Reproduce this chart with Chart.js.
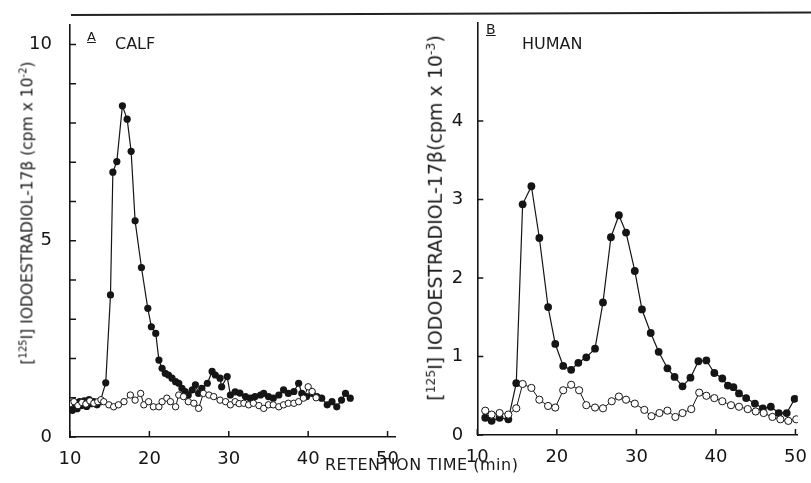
<!DOCTYPE html>
<html>
<head>
<meta charset="utf-8">
<script src="https://cdn.jsdelivr.net/npm/chart.js@4"></script>
<style>
    body { margin: 0; background: #fff; }
    #wrap { position: relative; width: 811px; height: 483px; background: #fff; font-family: "DejaVu Sans", sans-serif; color: #1a1a1a; }
    canvas { position: absolute; top: 0; }
    #chart-a { left: 0; }
    #chart-b { left: 405px; }
    .txt { position: absolute; white-space: nowrap; }
    .ytitle { transform: translate(-50%, -50%) rotate(-90deg); }
    .ytitle sup { font-size: 65%; }
    #rule { position: absolute; left: 71px; top: 14px; width: 740px; border-top: 2px solid #222; transform: rotate(-0.2deg); transform-origin: left center; }
</style>
</head>
<body>
<div id="wrap">
    <canvas id="chart-a" width="405" height="483"></canvas>
    <canvas id="chart-b" width="406" height="483"></canvas>
    <div id="rule"></div>

    <div class="txt" style="left:87px; top:29px; font-size:13px; text-decoration:underline;">A</div>
    <div class="txt" style="left:115px; top:34px; font-size:16px;">CALF</div>
    <div class="txt" style="left:486px; top:21px; font-size:14px; text-decoration:underline;">B</div>
    <div class="txt" style="left:522px; top:34px; font-size:16px;">HUMAN</div>

    <div class="txt ytitle" style="left:27px; top:213px; font-size:15.5px;">[<sup>125</sup>I] IODOESTRADIOL-17β (cpm x 10<sup>-2</sup>)</div>
    <div class="txt ytitle" style="left:435px; top:218px; font-size:19px;">[<sup>125</sup>I] IODOESTRADIOL-17β(cpm x 10<sup>-3</sup>)</div>

    <div class="txt" style="left:325px; top:455px; font-size:16px; letter-spacing:0.5px;">RETENTION TIME (min)</div>
</div>

<script>
    // panel A - calf
    const calfFilledTime = [10.0, 10.3, 10.6, 10.9, 11.2, 11.5, 11.8, 12.1, 12.4, 12.7, 13.0, 13.4, 13.8, 14.5,
        15.1, 15.4, 15.9, 16.6, 17.2, 17.7, 18.2, 19.0, 19.8, 20.25, 20.8, 21.2, 21.6, 22.0, 22.4, 22.85,
        23.3, 23.7, 24.1, 24.5, 24.9, 25.4, 25.8, 26.2, 26.6, 27.3, 27.9, 28.3, 28.9, 29.1, 29.8, 30.2,
        30.8, 31.4, 32.1, 32.7, 33.3, 34.0, 34.4, 35.0, 35.6, 36.3, 36.9, 37.5, 38.2, 38.8, 39.2, 39.8,
        40.5, 41.1, 41.7, 42.4, 43.0, 43.6, 44.2, 44.7, 45.3];
    const calfFilled = [0.75, 0.68, 0.85, 0.72, 0.9, 0.8, 0.92, 0.78, 0.95, 0.85, 0.9, 0.82, 0.9, 1.38,
        3.62, 6.75, 7.02, 8.44, 8.1, 7.28, 5.51, 4.32, 3.28, 2.81, 2.64, 1.96, 1.75, 1.62, 1.58, 1.5,
        1.41, 1.37, 1.24, 1.16, 1.07, 1.2, 1.33, 1.11, 1.24, 1.37, 1.67, 1.58, 1.5, 1.28, 1.54, 1.07,
        1.15, 1.12, 1.03, 0.99, 1.03, 1.07, 1.11, 1.03, 0.99, 1.07, 1.2, 1.11, 1.16, 1.37, 1.11, 1.03,
        1.11, 1.03, 0.99, 0.82, 0.9, 0.77, 0.94, 1.11, 0.99];

    const calfOpenTime = [10.0, 10.5, 11.0, 11.5, 12.0, 12.5, 13.0, 13.5, 13.9, 14.25, 14.9, 15.5, 16.1,
        16.8, 17.6, 18.2, 18.9, 19.3, 19.9, 20.5, 21.2, 21.6, 22.2, 22.65, 23.3, 23.7, 24.3, 24.9, 25.6,
        26.2, 26.8, 27.5, 28.1, 28.9, 29.6, 30.2, 30.8, 31.3, 31.9, 32.5, 33.1, 33.8, 34.4, 35.0, 35.6,
        36.3, 36.9, 37.5, 38.2, 38.8, 39.4, 40.0, 40.5, 41.0];
    const calfOpen = [0.85, 0.9, 0.8, 0.88, 0.84, 0.92, 0.86, 0.9, 0.95, 0.9, 0.82, 0.77, 0.82,
        0.9, 1.07, 0.94, 1.11, 0.82, 0.9, 0.77, 0.77, 0.9, 0.99, 0.9, 0.77, 1.07, 1.03, 0.9, 0.86,
        0.73, 1.11, 1.07, 1.03, 0.94, 0.9, 0.82, 0.9, 0.85, 0.86, 0.82, 0.86, 0.8, 0.73, 0.82, 0.82,
        0.77, 0.82, 0.86, 0.86, 0.9, 0.99, 1.28, 1.16, 1.0];

    // panel B - human
    const humanFilledTime = [11.0, 11.8, 12.8, 13.9, 14.9, 15.7, 16.8, 17.8, 18.9, 19.8, 20.8, 21.8, 22.7,
        23.7, 24.8, 25.8, 26.8, 27.8, 28.7, 29.8, 30.7, 31.8, 32.8, 33.9, 34.8, 35.8, 36.8, 37.8, 38.8,
        39.8, 40.8, 41.5, 42.2, 42.9, 43.8, 44.9, 45.9, 46.9, 47.9, 48.9, 49.9];
    const humanFilled = [0.22, 0.18, 0.22, 0.2, 0.66, 2.94, 3.17, 2.51, 1.63, 1.16, 0.88, 0.83, 0.92,
        0.99, 1.1, 1.69, 2.52, 2.8, 2.58, 2.09, 1.6, 1.3, 1.06, 0.85, 0.74, 0.62, 0.73, 0.94, 0.95,
        0.79, 0.72, 0.63, 0.61, 0.53, 0.47, 0.4, 0.34, 0.36, 0.28, 0.28, 0.46];

    const humanOpenTime = [11.0, 11.8, 12.8, 13.9, 14.9, 15.7, 16.8, 17.8, 18.9, 19.8, 20.8, 21.8, 22.8,
        23.7, 24.8, 25.8, 26.9, 27.8, 28.7, 29.8, 31.0, 31.9, 32.9, 33.9, 34.9, 35.8, 36.9, 37.9, 38.8,
        39.8, 40.8, 41.9, 42.9, 44.0, 45.0, 46.0, 47.1, 48.1, 49.1, 50.1];
    const humanOpen = [0.31, 0.26, 0.28, 0.26, 0.34, 0.65, 0.6, 0.45, 0.37, 0.35, 0.57, 0.64, 0.57,
        0.38, 0.35, 0.34, 0.43, 0.49, 0.45, 0.4, 0.32, 0.24, 0.28, 0.31, 0.23, 0.28, 0.33, 0.54, 0.5,
        0.47, 0.43, 0.38, 0.36, 0.33, 0.3, 0.28, 0.23, 0.2, 0.18, 0.2];

    // ticks
    const xTicks = [10, 20, 30, 40, 50];
    const calfYTicks = [0, 1, 2, 3, 4, 5, 6, 7, 8, 9, 10];
    const calfYLabels = [0, 5, 10];
    const humanYTicks = [0, 1, 2, 3, 4];

    const INK = "#151515";
    const FONT = "DejaVu Sans";

    function toXY(times, values) {
        return times.map((t, i) => ({x: t, y: values[i]}));
    }

    // long polylines from the line element never showed up here, so join the
    // positioned points one short stroke at a time, under the points
    const connectLines = {
        id: "connectLines",
        beforeDatasetsDraw(chart) {
            const ctx = chart.ctx;
            ctx.save();
            ctx.strokeStyle = INK;
            ctx.lineCap = "round";
            chart.data.datasets.forEach(function (ds, i) {
                const pts = chart.getDatasetMeta(i).data;
                ctx.lineWidth = ds.joinWidth;
                for (let j = 1; j < pts.length; j++) {
                    ctx.beginPath();
                    ctx.moveTo(pts[j - 1].x, pts[j - 1].y);
                    ctx.lineTo(pts[j].x, pts[j].y);
                    ctx.stroke();
                }
            });
            ctx.restore();
        }
    };

    // tick marks drawn on the inner side of the axes
    const innerTicks = {
        id: "innerTicks",
        afterDraw(chart, args, opts) {
            const ctx = chart.ctx;
            const area = chart.chartArea;
            const sx = chart.scales.x;
            const sy = chart.scales.y;
            ctx.save();
            ctx.strokeStyle = INK;
            ctx.lineWidth = 1.5;
            ctx.beginPath();
            sx.ticks.forEach(function (t) {
                const px = sx.getPixelForValue(t.value);
                ctx.moveTo(px, area.bottom);
                ctx.lineTo(px, area.bottom - opts.len);
            });
            sy.ticks.forEach(function (t) {
                const py = sy.getPixelForValue(t.value);
                ctx.moveTo(area.left, py);
                ctx.lineTo(area.left + opts.len, py);
            });
            ctx.stroke();
            ctx.restore();
        }
    };

    function makeChart(id, cfg) {
        const context = document.getElementById(id).getContext("2d");
        return new Chart(context, {
            type: "line",
            data: {
                datasets: [{
                    label: "open",
                    data: toXY(cfg.openT, cfg.open),
                    showLine: false,
                    joinWidth: 1,
                    pointRadius: cfg.openR,
                    pointBackgroundColor: "#fff",
                    pointBorderColor: INK,
                    pointBorderWidth: 1
                }, {
                    label: "filled",
                    data: toXY(cfg.filledT, cfg.filled),
                    showLine: false,
                    joinWidth: 1.2,
                    pointRadius: cfg.filledR,
                    pointBackgroundColor: INK,
                    pointBorderColor: INK,
                    pointBorderWidth: 0
                }]
            },
            options: {
                responsive: false,
                animation: false,
                layout: {padding: {top: cfg.top, right: cfg.right}},
                plugins: {
                    legend: {display: false},
                    tooltip: {enabled: false},
                    innerTicks: {len: 6}
                },
                scales: {
                    x: {
                        type: "linear",
                        min: 10,
                        max: cfg.xMax,
                        afterBuildTicks: function (axis) {
                            axis.ticks = xTicks.map(v => ({value: v}));
                        },
                        afterFit: function (scale) {
                            scale.height = cfg.bottom;
                        },
                        grid: {display: false},
                        border: {display: true, color: INK, width: 1.6},
                        ticks: {
                            color: INK,
                            padding: 4,
                            maxRotation: 0,
                            font: {family: FONT, size: 18}
                        }
                    },
                    y: {
                        type: "linear",
                        min: 0,
                        max: cfg.yMax,
                        afterBuildTicks: function (axis) {
                            axis.ticks = cfg.yTicks.map(v => ({value: v}));
                        },
                        afterFit: function (scale) {
                            scale.width = cfg.left;
                        },
                        grid: {display: false},
                        border: {display: true, color: INK, width: 1.6},
                        ticks: {
                            color: INK,
                            padding: cfg.yPad,
                            font: {family: FONT, size: 18},
                            callback: cfg.yLabel
                        }
                    }
                }
            },
            plugins: [connectLines, innerTicks]
        });
    }

    makeChart("chart-a", {
        openT: calfOpenTime, open: calfOpen,
        filledT: calfFilledTime, filled: calfFilled,
        openR: 3.2, filledR: 3.6,
        xMax: 51, yMax: 10.5, yTicks: calfYTicks,
        yLabel: v => calfYLabels.includes(v) ? String(v) : "",
        top: 25, right: 9.5, left: 70, bottom: 46, yPad: 10
    });

    makeChart("chart-b", {
        openT: humanOpenTime, open: humanOpen,
        filledT: humanFilledTime, filled: humanFilled,
        openR: 3.6, filledR: 3.9,
        xMax: 50.3, yMax: 5.25, yTicks: humanYTicks,
        yLabel: v => String(v),
        top: 23, right: 11, left: 72.3, bottom: 48, yPad: 6
    });
</script>
</body>
</html>
